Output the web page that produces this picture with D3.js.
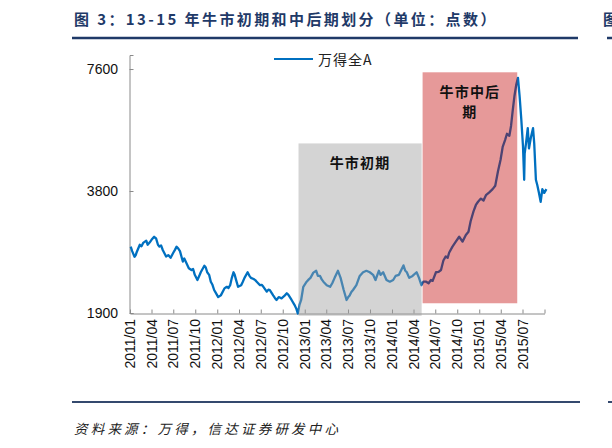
<!DOCTYPE html>
<html lang="zh">
<head>
<meta charset="utf-8">
<title>13-15年牛市初期和中后期划分</title>
<script src="https://d3js.org/d3.v7.min.js"></script>
<style>
  body { margin: 0; background: #fff; }
  svg text { font-family: "Liberation Sans", Arial, sans-serif; }
  .cjk { font-family: "Noto Sans CJK SC", sans-serif !important; }
</style>
</head>
<body>
<div id="chart"></div>
<script>
// 万得全A (roughly every 1-2 weeks)
var dates = [
  "2011-01-04","2011-01-10","2011-01-20","2011-01-25","2011-01-28","2011-02-11","2011-02-18","2011-02-25",
  "2011-03-10","2011-03-16","2011-03-24","2011-04-01","2011-04-12","2011-04-20","2011-04-28","2011-05-04",
  "2011-05-11","2011-05-18","2011-06-01","2011-06-10","2011-06-20","2011-07-01","2011-07-08","2011-07-15",
  "2011-07-22","2011-07-29","2011-08-10","2011-08-16","2011-08-22","2011-09-04","2011-09-15","2011-09-22",
  "2011-09-29","2011-10-10","2011-10-17","2011-10-24","2011-11-08","2011-11-14","2011-11-20","2011-11-28",
  "2011-12-05","2011-12-12","2011-12-19","2011-12-26","2012-01-05","2012-01-16","2012-01-31","2012-02-10",
  "2012-02-17","2012-02-24","2012-03-02","2012-03-09","2012-03-14","2012-03-20","2012-03-28","2012-04-10",
  "2012-04-17","2012-04-24","2012-05-07","2012-05-14","2012-05-21","2012-06-01","2012-06-08","2012-06-14",
  "2012-06-28","2012-07-05","2012-07-12","2012-07-26","2012-08-02","2012-08-08","2012-08-22","2012-08-29",
  "2012-09-05","2012-09-14","2012-09-26","2012-10-10","2012-10-18","2012-10-24","2012-11-07","2012-11-19",
  "2012-11-27","2012-12-03","2012-12-10","2012-12-17","2012-12-26","2013-01-09","2013-01-18","2013-01-25",
  "2013-02-06","2013-02-18","2013-02-25","2013-03-06","2013-03-13","2013-03-20","2013-04-03","2013-04-17",
  "2013-04-26","2013-05-06","2013-05-20","2013-05-31","2013-06-13","2013-06-25","2013-07-02","2013-07-08",
  "2013-07-15","2013-07-22","2013-08-05","2013-08-19","2013-09-02","2013-09-16","2013-09-30","2013-10-14",
  "2013-10-24","2013-11-07","2013-11-14","2013-11-25","2013-12-09","2013-12-23","2014-01-06","2014-01-16",
  "2014-01-30","2014-02-18","2014-02-25","2014-03-04","2014-03-14","2014-03-28","2014-04-14","2014-04-24",
  "2014-05-04","2014-05-12","2014-05-24","2014-06-03","2014-06-13","2014-06-20","2014-07-04","2014-07-15",
  "2014-07-25","2014-08-04","2014-08-14","2014-08-22","2014-08-28","2014-09-11","2014-09-25","2014-10-09",
  "2014-10-23","2014-11-06","2014-11-17","2014-11-26","2014-12-08","2014-12-18","2014-12-27","2015-01-08",
  "2015-01-19","2015-01-29","2015-02-12","2015-02-26","2015-03-09","2015-03-20","2015-03-31","2015-04-09",
  "2015-04-19","2015-04-27","2015-05-07","2015-05-14","2015-05-21","2015-05-28","2015-06-05","2015-06-12",
  "2015-06-19","2015-06-26","2015-07-03","2015-07-08","2015-07-10","2015-07-16","2015-07-23","2015-07-28",
  "2015-08-05","2015-08-14","2015-08-19","2015-08-26","2015-09-01","2015-09-07","2015-09-15","2015-09-22",
  "2015-09-30","2015-10-09"
];
var values = [
  2770,2700,2615,2640,2675,2800,2775,2830,
  2866,2800,2835,2880,2930,2904,2800,2770,
  2790,2718,2620,2640,2600,2675,2720,2770,
  2740,2700,2545,2590,2545,2450,2426,2440,
  2360,2292,2340,2395,2485,2460,2395,2360,
  2270,2230,2165,2130,2080,2100,2185,2205,
  2190,2225,2320,2395,2360,2290,2205,2225,
  2270,2320,2395,2350,2320,2305,2290,2270,
  2225,2230,2205,2145,2170,2165,2100,2070,
  2046,2080,2065,2100,2125,2110,2046,1990,
  1945,1895,1990,2046,2205,2270,2300,2320,
  2390,2415,2345,2345,2300,2270,2225,2205,
  2250,2320,2415,2320,2165,2046,2080,2100,
  2140,2165,2225,2345,2395,2415,2395,2360,
  2292,2415,2360,2395,2292,2270,2292,2345,
  2360,2490,2420,2395,2320,2345,2395,2320,
  2225,2270,2270,2250,2292,2280,2395,2400,
  2426,2560,2620,2600,2675,2770,2850,2930,
  2850,2960,3015,3200,3385,3510,3575,3640,
  3600,3710,3770,3840,3915,4240,4532,4880,
  5075,5260,5200,5500,6000,6500,6960,7230,
  6500,5700,4900,4050,4700,5000,5430,4840,
  5150,5430,4980,4050,3925,3780,3575,3840,
  3760,3840
];

// shaded periods
var periodNames = [["牛市初期"], ["牛市中后", "期"]];
var periodStart = ["2012-12-06", "2014-05-09"];
var periodEnd = ["2014-05-05", "2015-06-09"];
var periodTop = [4980, 7460];
var periodBottom = [1870, 2008];
var periodFill = ["rgb(160,160,160)", "rgb(192,0,0)"];

var yTicks = [1900, 3800, 7600];
var xTickLabels = ["2011/01","2011/04","2011/07","2011/10","2012/01","2012/04","2012/07","2012/10",
  "2013/01","2013/04","2013/07","2013/10","2014/01","2014/04","2014/07","2014/10",
  "2015/01","2015/04","2015/07"];

var parse = d3.timeParse("%Y-%m-%d");
var series = dates.map(function (d, i) { return { date: parse(d), value: values[i] }; });

var svg = d3.select("#chart").append("svg")
  .attr("width", 612).attr("height", 448);

// title + rules
svg.append("text").attr("class", "cjk")
  .attr("x", 74).attr("y", 18).attr("dominant-baseline", "central")
  .attr("font-size", "15px").attr("font-weight", "bold")
  .attr("letter-spacing", "2.4px").attr("fill", "#1f3a68")
  .text("图 3：13-15 年牛市初期和中后期划分（单位：点数）");
svg.append("line").attr("x1", 72).attr("x2", 578).attr("y1", 38).attr("y2", 38)
  .attr("stroke", "#1f3a68").attr("stroke-width", 2.5);
// start of the next column's heading, cut by the page edge
svg.append("text").attr("class", "cjk")
  .attr("x", 603).attr("y", 18).attr("dominant-baseline", "central")
  .attr("font-size", "15px").attr("font-weight", "bold").attr("fill", "#1f3a68").text("图");
svg.append("line").attr("x1", 607).attr("x2", 612).attr("y1", 38).attr("y2", 38)
  .attr("stroke", "#1f3a68").attr("stroke-width", 2.5);

svg.append("line").attr("x1", 72).attr("x2", 580).attr("y1", 402).attr("y2", 402)
  .attr("stroke", "#34496e").attr("stroke-width", 2);
svg.append("line").attr("x1", 608).attr("x2", 612).attr("y1", 402).attr("y2", 402)
  .attr("stroke", "#34496e").attr("stroke-width", 2);
svg.append("text").attr("class", "cjk")
  .attr("x", 74).attr("y", 428).attr("dominant-baseline", "central")
  .attr("font-size", "13.5px").attr("font-style", "italic")
  .attr("letter-spacing", "3.2px").attr("fill", "#222")
  .text("资料来源：万得，信达证券研发中心");

// scales
var x = d3.scaleTime()
  .domain([new Date(2011, 0, 1), new Date(2015, 9, 1)])
  .range([130, 544.5]);
var y = d3.scaleLog().base(2)
  .domain([1900, 8230])
  .range([313, 55]);

// axes
var yAxis = svg.append("g")
  .attr("transform", "translate(129.5,0)")
  .call(d3.axisRight(y).tickValues(yTicks).tickSize(4).tickFormat(""));
yAxis.selectAll("line, path").attr("stroke", "#8a8a8a");
svg.selectAll(".ylab").data(yTicks).enter().append("text")
  .attr("x", 118).attr("y", function (d) { return y(d); })
  .attr("text-anchor", "end").attr("dominant-baseline", "central")
  .attr("font-size", "14px").attr("fill", "#111")
  .text(function (d) { return d; });

var xTickDates = xTickLabels.map(function (s) { return d3.timeParse("%Y/%m")(s); });
var xAxis = svg.append("g")
  .attr("transform", "translate(0,313.5)")
  .call(d3.axisTop(x).tickValues(xTickDates.concat([new Date(2015, 9, 1)]))
    .tickSize(4).tickSizeOuter(0).tickFormat(""));
xAxis.selectAll("line, path").attr("stroke", "#8a8a8a");
svg.selectAll(".xlab").data(xTickDates).enter().append("text")
  .attr("transform", function (d, i) { return "translate(" + x(d) + ",319) rotate(-90)"; })
  .attr("text-anchor", "end").attr("dominant-baseline", "central")
  .attr("font-size", "14px").attr("fill", "#111")
  .text(function (d, i) { return xTickLabels[i]; });

// the series
var line = d3.line()
  .x(function (d) { return x(d.date); })
  .y(function (d) { return y(d.value); });
svg.append("path").datum(series)
  .attr("d", line)
  .attr("fill", "none")
  .attr("stroke", "#0070c0")
  .attr("stroke-width", 2.3)
  .attr("stroke-linejoin", "round");

// shaded periods, drawn over the line
periodStart.forEach(function (s, i) {
  var x0 = x(parse(s)), x1 = x(parse(periodEnd[i]));
  var y0 = y(periodTop[i]), y1 = y(periodBottom[i]);
  svg.append("rect")
    .attr("x", x0).attr("y", y0)
    .attr("width", x1 - x0).attr("height", y1 - y0)
    .attr("fill", periodFill[i]).attr("fill-opacity", i === 0 ? 0.45 : 0.4);
  var cx = (x0 + x1) / 2;
  periodNames[i].forEach(function (t, j) {
    svg.append("text").attr("class", "cjk")
      .attr("x", cx).attr("y", y0 + 19 + j * 20)
      .attr("text-anchor", "middle").attr("dominant-baseline", "central")
      .attr("font-size", "14px").attr("font-weight", "bold")
      .attr("letter-spacing", "1.2px").attr("fill", "#111")
      .text(t);
  });
});

// legend
svg.append("line").attr("x1", 274).attr("x2", 313).attr("y1", 59).attr("y2", 59)
  .attr("stroke", "#0070c0").attr("stroke-width", 2);
svg.append("text").attr("class", "cjk")
  .attr("x", 318).attr("y", 59).attr("dominant-baseline", "central")
  .attr("font-size", "14px").attr("letter-spacing", "1px").attr("fill", "#222")
  .text("万得全A");
</script>
</body>
</html>
